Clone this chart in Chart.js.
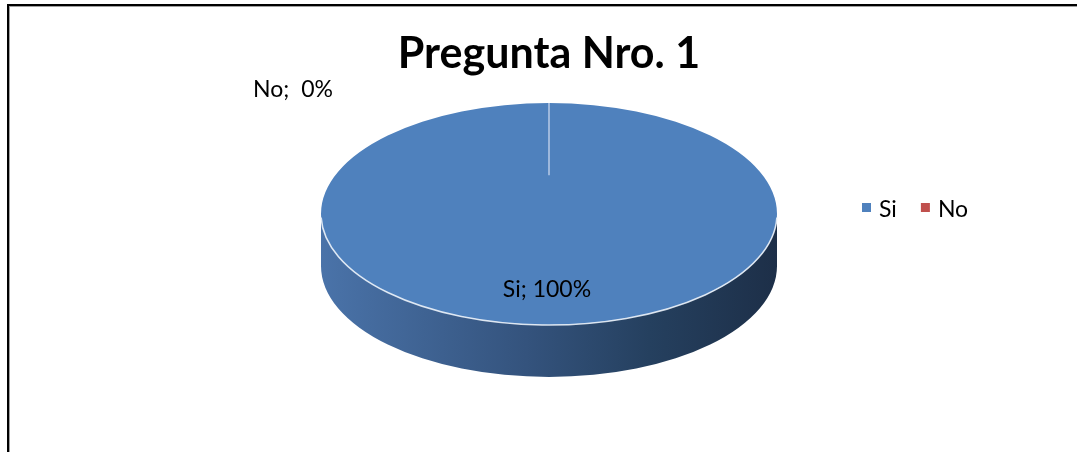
<!DOCTYPE html>
<html><head><meta charset="utf-8">
<script src="https://cdn.jsdelivr.net/npm/chart.js@4/dist/chart.umd.min.js"></script>
<style>
html,body{margin:0;padding:0;background:#fff;}
#wrap{position:relative;width:1077px;height:452px;overflow:hidden;}
#frame{position:absolute;left:7px;top:4px;right:-10px;bottom:-10px;border-top:2px solid #000;border-left:2px solid #000;box-shadow:inset 1px 1px 0 #a0a0a0;}
canvas{position:absolute;left:0;top:0;}
</style></head><body>
<div id="wrap"><div id="frame"></div><canvas id="c" width="1077" height="452"></canvas></div>
<script>
const chartTitle = 'Pregunta Nro. 1';
const categories = ['Si', 'No'];
const values = [100, 0];
const percentLabels = ['100%', '0%'];
const colors = ['#4F81BD', '#C0504D'];

const FONT = 'Lato, "Open Sans", "DejaVu Sans", sans-serif';
const STRETCH = 228 / 111;   // horizontal stretch of the flattened pie
const DEPTH = 52;            // thickness of the 3D side

const pie3d = {
  id: 'pie3d',
  beforeDatasetsDraw(chart) {
    const el = chart.getDatasetMeta(0).data[0];
    const {x, y, outerRadius: r} = el;
    const ctx = chart.ctx;
    ctx.save();
    ctx.translate(x, 0); ctx.scale(STRETCH, 1); ctx.translate(-x, 0);
    ctx.beginPath();
    ctx.arc(x, y, r, 0, Math.PI, false);
    ctx.lineTo(x - r, y + DEPTH);
    ctx.arc(x, y + DEPTH, r, Math.PI, 0, true);
    ctx.closePath();
    const g = ctx.createLinearGradient(x - r, 0, x + r, 0);
    g.addColorStop(0, '#4a73a9');
    g.addColorStop(0.45, '#34537d');
    g.addColorStop(0.72, '#25405f');
    g.addColorStop(1, '#1d2f48');
    ctx.fillStyle = g;
    ctx.fill();
  },
  afterDatasetsDraw(chart) {
    const meta = chart.getDatasetMeta(0);
    const el = meta.data[0];
    const {x, y, outerRadius: r} = el;
    const ctx = chart.ctx;
    // front rim highlight
    ctx.beginPath();
    ctx.arc(x, y, r, 0.01 * Math.PI, 0.99 * Math.PI);
    // slice boundary line of the zero slice
    const a = meta.data[1].startAngle;
    const p1 = [x + r * Math.cos(a), y + r * Math.sin(a)];
    const p2 = [x + 0.35 * r * Math.cos(a), y + 0.35 * r * Math.sin(a)];
    const m = ctx.getTransform();
    const t = (p) => [m.a * p[0] + m.c * p[1] + m.e, m.b * p[0] + m.d * p[1] + m.f];
    const q1 = t(p1), q2 = t(p2);
    ctx.restore();
    ctx.save();
    ctx.strokeStyle = 'rgba(235,242,250,0.9)';
    ctx.lineWidth = 1.6;
    ctx.stroke();
    ctx.beginPath();
    ctx.moveTo(q1[0], q1[1]);
    ctx.lineTo(q2[0], q2[1]);
    ctx.strokeStyle = 'rgba(190,208,232,0.95)';
    ctx.lineWidth = 1.5;
    ctx.stroke();
    ctx.restore();
  },
  afterDraw(chart) {
    const ctx = chart.ctx;
    const el = chart.getDatasetMeta(0).data[0];
    const {x, y, outerRadius: r} = el;
    ctx.save();
    ctx.font = '23px ' + FONT;
    ctx.fillStyle = '#000';
    ctx.textBaseline = 'alphabetic';
    ctx.textAlign = 'center';
    // data labels
    ctx.fillText(categories[0] + '; ' + percentLabels[0], x - 2, y + 0.75 * r);
    ctx.fillText(categories[1] + ';  ' + percentLabels[1], x - 256, y - 1.05 * r);
    // legend
    ctx.textAlign = 'left';
    let lx = 862;
    const ly = 217;
    categories.forEach((c, i) => {
      ctx.fillStyle = colors[i];
      ctx.fillRect(lx, ly - 14, 9, 9);
      ctx.fillStyle = '#000';
      ctx.fillText(c, lx + 17, ly);
      lx += 17 + ctx.measureText(c).width + 24;
    });
    ctx.restore();
  }
};

function build() {
  new Chart(document.getElementById('c'), {
    type: 'pie',
    data: {
      labels: categories,
      datasets: [{data: values, backgroundColor: colors, borderWidth: 0}]
    },
    options: {
      responsive: false,
      animation: false,
      devicePixelRatio: 1,
      layout: {padding: {left: 300, right: 279, top: 18, bottom: 127}},
      plugins: {
        legend: {display: false},
        tooltip: {enabled: false},
        title: {
          display: true,
          text: chartTitle,
          color: '#000',
          font: {family: FONT, size: 43, weight: 'bold'},
          padding: {top: 10, bottom: 23.4}
        }
      }
    },
    plugins: [pie3d]
  });
}
Promise.all([
  document.fonts.load('bold 43px Lato'),
  document.fonts.load('23px Lato')
]).then(build, build);
</script>
</body></html>
